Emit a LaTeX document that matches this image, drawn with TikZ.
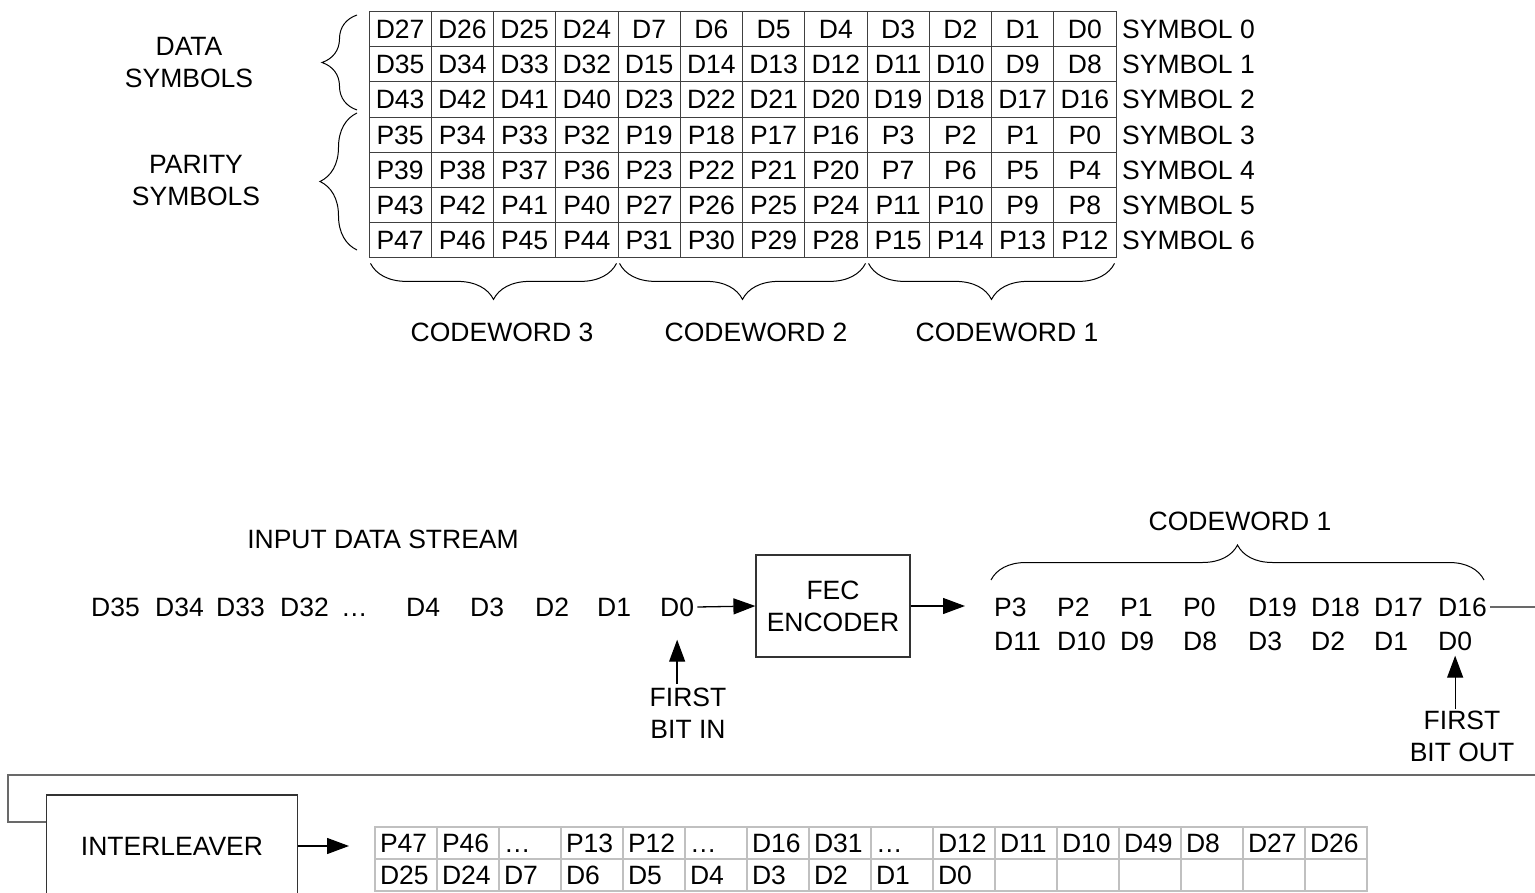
\documentclass[tikz,border=0pt]{standalone}
\usepackage{fontspec}
\setmainfont{Liberation Sans}
\usetikzlibrary{positioning,arrows.meta,decorations.pathreplacing}
\definecolor{gridgray}{RGB}{192,192,192}
\definecolor{wiregray}{RGB}{105,105,105}

\tikzset{
  cell/.style={draw=black!75,line width=1pt,minimum width=62.25pt,minimum height=35.2pt,inner sep=0pt,text height=19pt,text depth=0pt},
  lcell/.style={draw=gridgray,line width=2pt,minimum width=62pt,minimum height=32pt,inner xsep=5pt,inner ysep=0pt,text width=52pt,align=left,text height=19pt,text depth=0pt},
  bit/.style={anchor=west,inner sep=3pt,text height=19pt,text depth=0pt},
  brc/.style={decorate,decoration={brace,amplitude=#1},line width=1pt},
  bigarrow/.style={-{Triangle[length=22pt,width=16pt]},line width=1.3pt},
  blk/.style={draw=black!80,line width=1.2pt,align=center}
}

\begin{document}
\begin{tikzpicture}[x=1pt,y=-1pt,font=\fontsize{26.5}{32}\selectfont]
\useasboundingbox (0,0) rectangle (1535,893);

% symbol table
\foreach \row [count=\r from 0] in {
  {D27,D26,D25,D24,D7,D6,D5,D4,D3,D2,D1,D0},
  {D35,D34,D33,D32,D15,D14,D13,D12,D11,D10,D9,D8},
  {D43,D42,D41,D40,D23,D22,D21,D20,D19,D18,D17,D16},
  {P35,P34,P33,P32,P19,P18,P17,P16,P3,P2,P1,P0},
  {P39,P38,P37,P36,P23,P22,P21,P20,P7,P6,P5,P4},
  {P43,P42,P41,P40,P27,P26,P25,P24,P11,P10,P9,P8},
  {P47,P46,P45,P44,P31,P30,P29,P28,P15,P14,P13,P12}}{
  \foreach \b [count=\k] in \row
    \node[cell] (t-\r-\k) at ({369+62.25*(\k-0.5)},{29.1+35.2*\r}) {\b};
  \node[anchor=west,inner sep=0pt,text height=19pt,text depth=0pt] (sym\r) at (1122,{29.1+35.2*\r}) {SYMBOL \r};
}

\node[align=center] (datasym) at (189,63) {DATA\\SYMBOLS};
\node[align=center] (paritysym) at (196,181) {PARITY\\SYMBOLS};
\draw[brc=35pt] (357,110) -- (357,15);
\draw[brc=37pt] (357,250) -- (357,113);

\draw[brc=36pt] ([xshift=-2pt,yshift=-5pt]t-6-4.south east) -- ([xshift=2pt,yshift=-5pt]t-6-1.south west);
\draw[brc=36pt] ([xshift=-2pt,yshift=-5pt]t-6-8.south east) -- ([xshift=2pt,yshift=-5pt]t-6-5.south west);
\draw[brc=36pt] ([xshift=-2pt,yshift=-5pt]t-6-12.south east) -- ([xshift=2pt,yshift=-5pt]t-6-9.south west);
\node (cw3) at (502,332) {CODEWORD 3};
\node (cw2) at (756,332) {CODEWORD 2};
\node (cw1) at (1007,332) {CODEWORD 1};

% encoder
\node (instream) at (383,539) {INPUT DATA STREAM};
\foreach \b/\x [count=\k] in {D35/88,D34/152,D33/213,D32/277,…/338,D4/403,D3/467,D2/532,D1/594,D0/657}
  \node[bit] (in\k) at (\x,607) {\b};
\node[blk,minimum width=154pt,minimum height=102pt] (fec) at (833,606) {FEC\\ENCODER};
\draw[bigarrow] (in10.east) -- (fec.west);
\draw[bigarrow] (fec.east) -- (965,606) coordinate (fecout);

\foreach \b/\x [count=\k] in {P3/991,P2/1054,P1/1117,P0/1180,D19/1245,D18/1308,D17/1371,D16/1435}
  \node[bit] (oa\k) at (\x,607) {\b};
\foreach \b/\x [count=\k] in {D11/991,D10/1054,D9/1117,D8/1180,D3/1245,D2/1308,D1/1371,D0/1435}
  \node[bit] (ob\k) at (\x,641) {\b};
\draw[brc=35pt] (991,580) -- (1484,580);
\node (cwout) at (1240,521) {CODEWORD 1};

\node[align=center] (firstin) at (688,713) {FIRST\\BIT IN};
\draw[bigarrow] (firstin.north -| in10) -- ([yshift=-20pt]in10.south);
\node[align=center] (firstout) at (1462,736) {FIRST\\BIT OUT};
\draw[bigarrow] ([yshift=-2pt]firstout.north -| ob8) -- ([yshift=-2pt]ob8.south);

% interleaver
\node[blk,minimum width=251pt,minimum height=102pt] (ilv) at (172,846) {INTERLEAVER};
\coordinate (edgeA) at (1535,607);
\coordinate (edgeB) at (1535,775);
\coordinate (turn) at (8,775);
\draw[wiregray,line width=1.3pt] (oa8.east) -- (edgeA);
\draw[wiregray,line width=1.3pt] (edgeB) -- (turn) |- ([yshift=24pt]ilv.west);

\foreach \row [count=\r from 0] in {
  {P47,P46,…,P13,P12,…,D16,D31,…,D12,D11,D10,D49,D8,D27,D26},
  {D25,D24,D7,D6,D5,D4,D3,D2,D1,D0,{},{},{},{},{},{}}}{
  \foreach \b [count=\k] in \row
    \node[lcell] (b-\r-\k) at ({375+62*(\k-0.5)},{843+32*\r}) {\b};
}
\draw[bigarrow] (ilv.east) -- ([xshift=-25pt]b-0-1.west |- ilv.east);
\end{tikzpicture}
\end{document}
